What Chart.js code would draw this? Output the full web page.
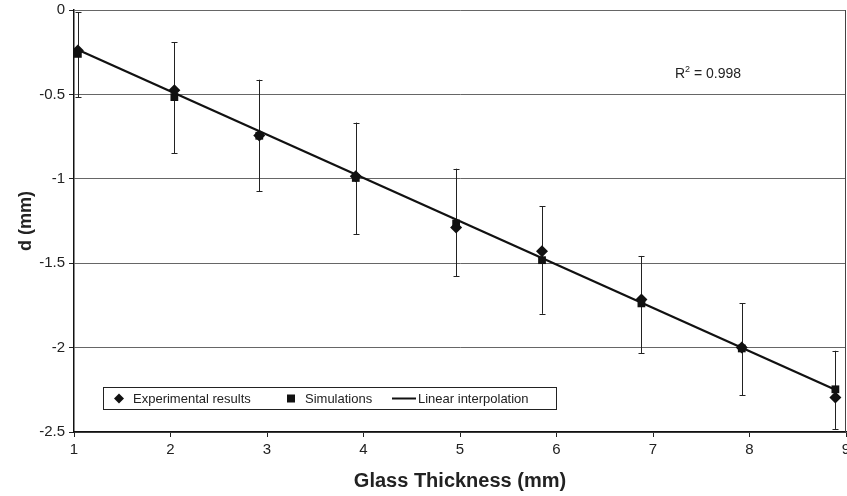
<!DOCTYPE html>
<html>
<head>
<meta charset="utf-8">
<script src="https://cdn.jsdelivr.net/npm/chart.js@4.4.1/dist/chart.umd.min.js"></script>
<style>
  html, body { margin: 0; padding: 0; background: #fff; }
  #wrap { position: relative; width: 847px; height: 496px; }
</style>
</head>
<body>
<div id="wrap"><canvas id="c" width="847" height="496"></canvas></div>
<script>
// ---- data ----
const thickness = [1.04, 2.04, 2.92, 3.92, 4.96, 5.85, 6.88, 7.92, 8.89];
const experimental = [-0.24, -0.476, -0.743, -0.985, -1.289, -1.429, -1.715, -1.999, -2.295];
const simulations = [-0.26, -0.516, -0.745, -0.995, -1.265, -1.482, -1.738, -2.005, -2.247];
const errTop = [-0.013, -0.19, -0.413, -0.667, -0.94, -1.163, -1.457, -1.738, -2.019];
const errBottom = [-0.516, -0.85, -1.074, -1.327, -1.577, -1.80, -2.034, -2.281, -2.482];
const fitX = [1.04, 8.89];
const fitY = [-0.235, -2.25];
const xTicks = [1, 2, 3, 4, 5, 6, 7, 8, 9];
const yTicks = [0, -0.5, -1, -1.5, -2, -2.5];
const seriesNames = ['Experimental results', 'Simulations', 'Linear interpolation'];
const r2Label = '0.998';

const FONT = '"Liberation Sans", Arial, sans-serif';

const pts = (xs, ys) => xs.map((x, i) => ({ x: x, y: ys[i] }));

const errorBars = {
  id: 'errorBars',
  beforeDatasetsDraw(chart) {
    const { ctx, scales: { x, y } } = chart;
    ctx.save();
    ctx.strokeStyle = '#222';
    ctx.lineWidth = 1;
    thickness.forEach((t, i) => {
      const px = Math.round(x.getPixelForValue(t)) + 0.5;
      const yt = y.getPixelForValue(errTop[i]);
      const yb = y.getPixelForValue(errBottom[i]);
      ctx.beginPath();
      ctx.moveTo(px, yt); ctx.lineTo(px, yb);
      ctx.moveTo(px - 3, Math.round(yt) + 0.5); ctx.lineTo(px + 3, Math.round(yt) + 0.5);
      ctx.moveTo(px - 3, Math.round(yb) + 0.5); ctx.lineTo(px + 3, Math.round(yb) + 0.5);
      ctx.stroke();
    });
    ctx.restore();
  }
};

const decorations = {
  id: 'decorations',
  afterDraw(chart) {
    const { ctx, chartArea: a } = chart;
    ctx.save();
    // right border of plot area
    ctx.strokeStyle = '#444';
    ctx.lineWidth = 1;
    ctx.beginPath();
    ctx.moveTo(Math.round(a.right) - 0.5, a.top);
    ctx.lineTo(Math.round(a.right) - 0.5, a.bottom);
    ctx.stroke();

    // R^2 annotation
    ctx.fillStyle = '#222';
    ctx.textBaseline = 'alphabetic';
    ctx.font = '14px ' + FONT;
    let tx = 675, ty = 78;
    ctx.fillText('R', tx, ty);
    tx += ctx.measureText('R').width;
    ctx.font = '9px ' + FONT;
    ctx.fillText('2', tx, ty - 6);
    tx += ctx.measureText('2').width;
    ctx.font = '14px ' + FONT;
    ctx.fillText(' = ' + r2Label, tx, ty);

    // legend box
    const lx = 103, ly = 387, lw = 453, lh = 22;
    ctx.fillStyle = '#fff';
    ctx.fillRect(lx, ly, lw, lh);
    ctx.strokeStyle = '#222';
    ctx.strokeRect(lx + 0.5, ly + 0.5, lw, lh);
    const cy = ly + lh / 2 + 0.5;
    ctx.fillStyle = '#111';
    ctx.font = '13px ' + FONT;
    ctx.textBaseline = 'middle';
    // diamond
    ctx.beginPath();
    ctx.moveTo(119, cy - 5); ctx.lineTo(124, cy); ctx.lineTo(119, cy + 5); ctx.lineTo(114, cy); ctx.closePath();
    ctx.fill();
    ctx.fillStyle = '#222';
    ctx.fillText(seriesNames[0], 133, cy + 1);
    // square
    ctx.fillStyle = '#111';
    ctx.fillRect(287, cy - 4, 8, 8);
    ctx.fillStyle = '#222';
    ctx.fillText(seriesNames[1], 305, cy + 1);
    // line
    ctx.strokeStyle = '#111';
    ctx.lineWidth = 2;
    ctx.beginPath();
    ctx.moveTo(392, cy); ctx.lineTo(416, cy);
    ctx.stroke();
    ctx.fillText(seriesNames[2], 418, cy + 1);
    ctx.restore();
  }
};

new Chart(document.getElementById('c'), {
  type: 'scatter',
  data: {
    datasets: [
      {
        label: seriesNames[2],
        type: 'line',
        data: pts(fitX, fitY),
        borderColor: '#111',
        borderWidth: 2.2,
        pointRadius: 0,
        fill: false,
        order: 3
      },
      {
        label: seriesNames[1],
        data: pts(thickness, simulations),
        pointStyle: 'rect',
        pointRadius: 5.5,
        backgroundColor: '#111',
        borderColor: '#111',
        borderWidth: 0,
        order: 2
      },
      {
        label: seriesNames[0],
        data: pts(thickness, experimental),
        pointStyle: 'rectRot',
        pointRadius: 6,
        backgroundColor: '#111',
        borderColor: '#111',
        borderWidth: 0,
        order: 1
      }
    ]
  },
  options: {
    responsive: false,
    animation: false,
    layout: { autoPadding: false, padding: { top: 10, right: 1, left: 0, bottom: 0 } },
    plugins: { legend: { display: false }, tooltip: { enabled: false } },
    scales: {
      x: {
        type: 'linear',
        min: 1, max: 9,
        afterBuildTicks: s => { s.ticks = xTicks.map(v => ({ value: v })); },
        afterFit: s => { s.height = 64; s.paddingLeft = 0; s.paddingRight = 0; },
        ticks: { color: '#222', font: { family: FONT, size: 15 }, padding: 4, maxRotation: 0, autoSkip: false, callback: v => String(v) },
        grid: { drawOnChartArea: false, drawTicks: true, tickLength: 5, color: '#222', tickColor: '#222' },
        border: { color: '#111', width: 1.5 },
        title: { display: true, text: 'Glass Thickness (mm)', color: '#222', font: { family: FONT, size: 20, weight: 'bold' }, padding: { top: 2, bottom: 3 } }
      },
      y: {
        type: 'linear',
        min: -2.5, max: 0,
        afterBuildTicks: s => { s.ticks = yTicks.map(v => ({ value: v })); },
        afterFit: s => { s.width = 74; s.paddingTop = 0; s.paddingBottom = 0; },
        ticks: { color: '#222', font: { family: FONT, size: 15 }, padding: 4, autoSkip: false, callback: v => String(v) },
        grid: { color: '#666', lineWidth: 1, drawTicks: true, tickLength: 5, tickColor: '#222' },
        border: { color: '#111', width: 1.5 },
        title: { display: true, text: 'd (mm)', color: '#222', font: { family: FONT, size: 18, weight: 'bold' }, padding: { top: 15, bottom: 2 } }
      }
    }
  },
  plugins: [errorBars, decorations]
});
</script>
</body>
</html>
